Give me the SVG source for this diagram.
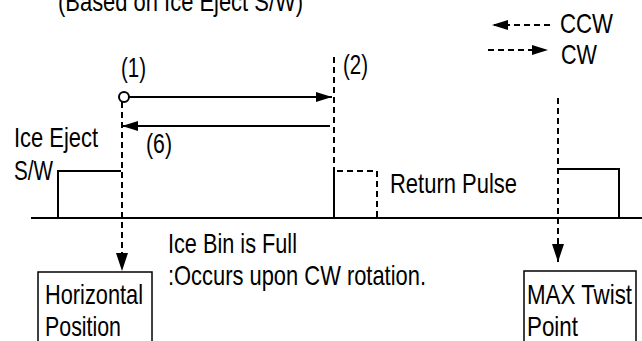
<svg xmlns="http://www.w3.org/2000/svg" width="642" height="341" viewBox="0 0 642 341">
<style>
text{font-family:"Liberation Sans Narrow","Liberation Sans",Arial,sans-serif;font-size:28px;fill:#000}
.s{stroke:#000;stroke-width:2;fill:none}
.d{stroke:#000;stroke-width:2;fill:none;stroke-dasharray:6,4}
</style>
<defs>
<marker id="ah" markerWidth="16" markerHeight="10" refX="16" refY="5" orient="auto" markerUnits="userSpaceOnUse">
<path d="M0,0 L16,5 L0,10 z" fill="#000"/>
</marker>
<marker id="av" markerWidth="12" markerHeight="18" refX="6" refY="18" orient="0" markerUnits="userSpaceOnUse">
<path d="M0,0 L12,0 L6,18 z" fill="#000"/>
</marker>
</defs>
<text x="58" y="11" textLength="245" lengthAdjust="spacingAndGlyphs">(Based on Ice Eject S/W)</text>
<g id="legend">
<path class="d" d="M550,25 H492" marker-end="url(#ah)"/>
<text x="560" y="33" textLength="53" lengthAdjust="spacingAndGlyphs">CCW</text>
<path class="d" d="M488,50 H548" marker-end="url(#ah)"/>
<text x="561" y="64" textLength="36" lengthAdjust="spacingAndGlyphs">CW</text>
</g>
<g id="signal">
<path class="s" d="M31,218 H642"/>
<path class="s" d="M58,218 V171 H121"/>
<path class="d" d="M334,218 V171 H377 V218"/>
<path class="s" d="M558,169 H619 V218"/>
<text x="14" y="147" textLength="84" lengthAdjust="spacingAndGlyphs">Ice Eject</text>
<text x="14" y="180" textLength="39" lengthAdjust="spacingAndGlyphs">S/W</text>
<text x="390" y="193" textLength="127" lengthAdjust="spacingAndGlyphs">Return Pulse</text>
</g>
<g id="labels">
<text x="121" y="77" textLength="25" lengthAdjust="spacingAndGlyphs">(1)</text>
<text x="343" y="74" textLength="25" lengthAdjust="spacingAndGlyphs">(2)</text>
<text x="146" y="153" textLength="26" lengthAdjust="spacingAndGlyphs">(6)</text>
<text x="168" y="253" textLength="129" lengthAdjust="spacingAndGlyphs">Ice Bin is Full</text>
<text x="168" y="285" textLength="258" lengthAdjust="spacingAndGlyphs">:Occurs upon CW rotation.</text>
</g>
<g id="connectors">
<circle cx="124" cy="97" r="5" class="s" stroke-width="2.5"/>
<path class="s" d="M129,97 H332" marker-end="url(#ah)"/>
<path class="s" d="M330,126 H122" marker-end="url(#ah)"/>
<path class="d" d="M334,57 V218"/>
<path class="d" d="M122,102 V271" marker-end="url(#av)"/>
<path class="d" d="M558,98 V262" marker-end="url(#av)"/>
</g>
<g id="horizontal">
<rect x="38" y="272" width="114" height="80" fill="#fff" stroke="#000" stroke-width="1.5"/>
<text x="45" y="304" textLength="98" lengthAdjust="spacingAndGlyphs">Horizontal</text>
<text x="45" y="336" textLength="76" lengthAdjust="spacingAndGlyphs">Position</text>
</g>
<g id="maxtwist">
<rect x="524" y="271" width="112" height="80" fill="#fff" stroke="#000" stroke-width="1.5"/>
<text x="527" y="304" textLength="105" lengthAdjust="spacingAndGlyphs">MAX Twist</text>
<text x="527" y="336" textLength="51" lengthAdjust="spacingAndGlyphs">Point</text>
</g>
</svg>
